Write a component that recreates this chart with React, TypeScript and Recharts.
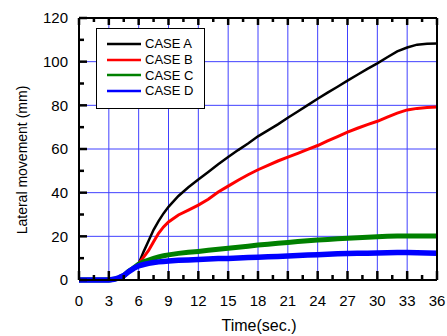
import { LineChart, Line, XAxis, YAxis, CartesianGrid, Legend } from 'recharts';

// sampled time points (sec.)
const TIME = [
  0, 3, 3.5, 4, 4.5, 5, 5.5, 6, 6.5, 7, 7.5, 8, 8.5, 9, 10, 11, 12, 13, 14, 15,
  16, 17, 18, 19, 20, 21, 22, 23, 24, 25, 26, 27, 28, 29, 30, 31, 32, 33, 34, 35, 36,
];

// lateral movement (mm)
const CASE_A = [
  0, 0, 0.3, 1, 2, 4, 5.5, 7.5, 13, 18, 23, 27, 30.5, 33.5, 38.5, 42.5, 46, 49.5, 53, 56.3,
  59.5, 62.5, 65.8, 68.5, 71.3, 74.3, 77.2, 80.1, 83, 85.8, 88.5, 91.3, 94, 96.7, 99.2, 102, 104.7, 106.5, 107.8, 108.2, 108.3,
];
const CASE_B = [
  0, 0, 0.3, 1, 2, 4, 5.5, 7.5, 10.5, 13.5, 17.5, 21.4, 24.3, 26.6, 29.8, 32, 34.3, 37, 40.3, 43,
  45.7, 48.2, 50.5, 52.5, 54.5, 56.3, 58, 59.8, 61.6, 63.7, 65.7, 67.7, 69.5, 71.2, 72.7, 74.6, 76.4, 77.9, 78.6, 79, 79.2,
];
const CASE_C = [
  0, 0, 0.3, 1, 2, 4, 5.5, 7.3, 8.3, 9.1, 9.9, 10.6, 11.1, 11.5, 12.2, 12.7, 13.1, 13.6, 14.1, 14.5,
  15, 15.5, 16, 16.4, 16.8, 17.2, 17.6, 18, 18.3, 18.6, 18.9, 19.1, 19.4, 19.6, 19.8, 20, 20.2, 20.2, 20.2, 20.1, 20.1,
];
const CASE_D = [
  0, 0, 0.3, 1, 2, 3.8, 5.3, 6.5, 7.1, 7.6, 8, 8.3, 8.5, 8.7, 9, 9.2, 9.4, 9.6, 9.8, 9.9,
  10.1, 10.3, 10.4, 10.6, 10.8, 11, 11.2, 11.4, 11.6, 11.8, 12, 12.1, 12.2, 12.3, 12.4, 12.5, 12.6, 12.6, 12.5, 12.4, 12.3,
];

const X_MAJOR = [0, 3, 6, 9, 12, 15, 18, 21, 24, 27, 30, 33, 36];
const X_TICKS = [0, 1.5, 3, 4.5, 6, 7.5, 9, 10.5, 12, 13.5, 15, 16.5, 18, 19.5, 21, 22.5, 24, 25.5, 27, 28.5, 30, 31.5, 33, 34.5, 36];
const Y_MAJOR = [0, 20, 40, 60, 80, 100, 120];
const Y_TICKS = [0, 10, 20, 30, 40, 50, 60, 70, 80, 90, 100, 110, 120];

const SERIES = [
  { key: 'a', name: 'CASE A', color: '#000000', width: 2.5 },
  { key: 'b', name: 'CASE B', color: '#ff0000', width: 3 },
  { key: 'c', name: 'CASE C', color: '#008000', width: 5 },
  { key: 'd', name: 'CASE D', color: '#0000ff', width: 5.5 },
];

const data = TIME.map((t, i) => ({
  t,
  a: CASE_A[i],
  b: CASE_B[i],
  c: CASE_C[i],
  d: CASE_D[i],
}));

const W = 447;
const H = 336;
const TOP = 18;
const BOTTOM = 280;
const LEFT = 79;
const RIGHT = 437;
const FONT = 'Arial, "Liberation Sans", sans-serif';
const AXIS_LINE = { stroke: '#000', strokeWidth: 2 };
const TICK_W = 2.5;

const isMajorX = (v: number) => v % 3 === 0;
const isMajorY = (v: number) => v % 20 === 0;

// ticks point inward, drawn by the tick renderers
const renderBottomTick = ({ x, payload }: any) => {
  const major = isMajorX(payload.value);
  return (
    <g>
      <line x1={x} x2={x} y1={BOTTOM} y2={BOTTOM - (major ? 9 : 5)} stroke="#000" strokeWidth={TICK_W} />
      {major && (
        <text x={x} y={306} textAnchor="middle" fontSize={15} fontFamily={FONT} fill="#000">
          {payload.value}
        </text>
      )}
    </g>
  );
};

const renderTopTick = ({ x, payload }: any) => {
  const major = isMajorX(payload.value);
  return <line x1={x} x2={x} y1={TOP} y2={TOP + (major ? 7 : 4)} stroke="#000" strokeWidth={TICK_W} />;
};

const renderLeftTick = ({ y, payload }: any) => {
  const major = isMajorY(payload.value);
  return (
    <g>
      <line x1={LEFT} x2={LEFT + (major ? 8 : 5)} y1={y} y2={y} stroke="#000" strokeWidth={TICK_W} />
      {major && (
        <text x={68} y={y} dy="0.36em" textAnchor="end" fontSize={15} fontFamily={FONT} fill="#000">
          {payload.value}
        </text>
      )}
    </g>
  );
};

const renderRightTick = ({ y, payload }: any) => {
  const major = isMajorY(payload.value);
  return <line x1={RIGHT} x2={RIGHT - (major ? 7 : 6)} y1={y} y2={y} stroke="#000" strokeWidth={TICK_W} />;
};

function LegendBox() {
  return (
    <div style={{
      width: 109,
      height: 81,
      border: '1px solid #000',
      background: '#fff',
      boxSizing: 'border-box',
      paddingTop: 7,
      fontFamily: FONT,
      fontSize: 13,
    }}>
      {SERIES.map(s => (
        <div key={s.key} style={{ display: 'flex', alignItems: 'center', height: 15.7 }}>
          <svg width={48} height={4} style={{ display: 'block' }}>
            <line x1={10} x2={44} y1={2} y2={2} stroke={s.color} strokeWidth={2.5} />
          </svg>
          <span style={{ lineHeight: '15px' }}>{s.name}</span>
        </div>
      ))}
    </div>
  );
}

export default function App() {
  return (
    <div style={{ position: 'absolute', left: 0, top: 0, width: W, height: H, background: '#fff' }}>
      <LineChart width={W} height={H} data={data} margin={{ top: 0, right: 0, bottom: 0, left: 0 }}>
        <CartesianGrid
          xAxisId="bottom"
          yAxisId="left"
          stroke="#4040ff"
          strokeWidth={1}
          verticalValues={X_MAJOR}
          horizontalValues={Y_MAJOR}
        />
        <XAxis
          xAxisId="bottom"
          dataKey="t"
          type="number"
          domain={[0, 36]}
          ticks={X_TICKS}
          interval={0}
          height={56}
          axisLine={AXIS_LINE}
          tickLine={false}
          tick={renderBottomTick}
          label={{
            content: () => (
              <text x={259} y={331} textAnchor="middle" fontSize={16} fontFamily={FONT} fill="#000">
                Time(sec.)
              </text>
            ),
          }}
        />
        <XAxis
          xAxisId="top"
          orientation="top"
          dataKey="t"
          type="number"
          domain={[0, 36]}
          ticks={X_TICKS}
          interval={0}
          height={TOP}
          axisLine={AXIS_LINE}
          tickLine={false}
          tick={renderTopTick}
        />
        <YAxis
          yAxisId="left"
          type="number"
          domain={[0, 120]}
          ticks={Y_TICKS}
          interval={0}
          width={LEFT}
          axisLine={AXIS_LINE}
          tickLine={false}
          tick={renderLeftTick}
          label={{
            content: () => (
              <text
                x={22}
                y={160}
                transform="rotate(-90 22 160)"
                dy="0.36em"
                textAnchor="middle"
                fontSize={14}
                fontFamily={FONT}
                fill="#000"
              >
                Lateral movement (mm)
              </text>
            ),
          }}
        />
        <YAxis
          yAxisId="right"
          orientation="right"
          type="number"
          domain={[0, 120]}
          ticks={Y_TICKS}
          interval={0}
          width={W - RIGHT}
          axisLine={AXIS_LINE}
          tickLine={false}
          tick={renderRightTick}
        />
        {SERIES.map(s => (
          <Line
            key={s.key}
            xAxisId="bottom"
            yAxisId="left"
            dataKey={s.key}
            name={s.name}
            type="linear"
            stroke={s.color}
            strokeWidth={s.width}
            dot={false}
            isAnimationActive={false}
          />
        ))}
        <Legend
          layout="vertical"
          align="center"
          verticalAlign="middle"
          wrapperStyle={{ left: 96, top: 28, width: 109, height: 81 }}
          content={() => <LegendBox />}
        />
      </LineChart>
    </div>
  );
}
